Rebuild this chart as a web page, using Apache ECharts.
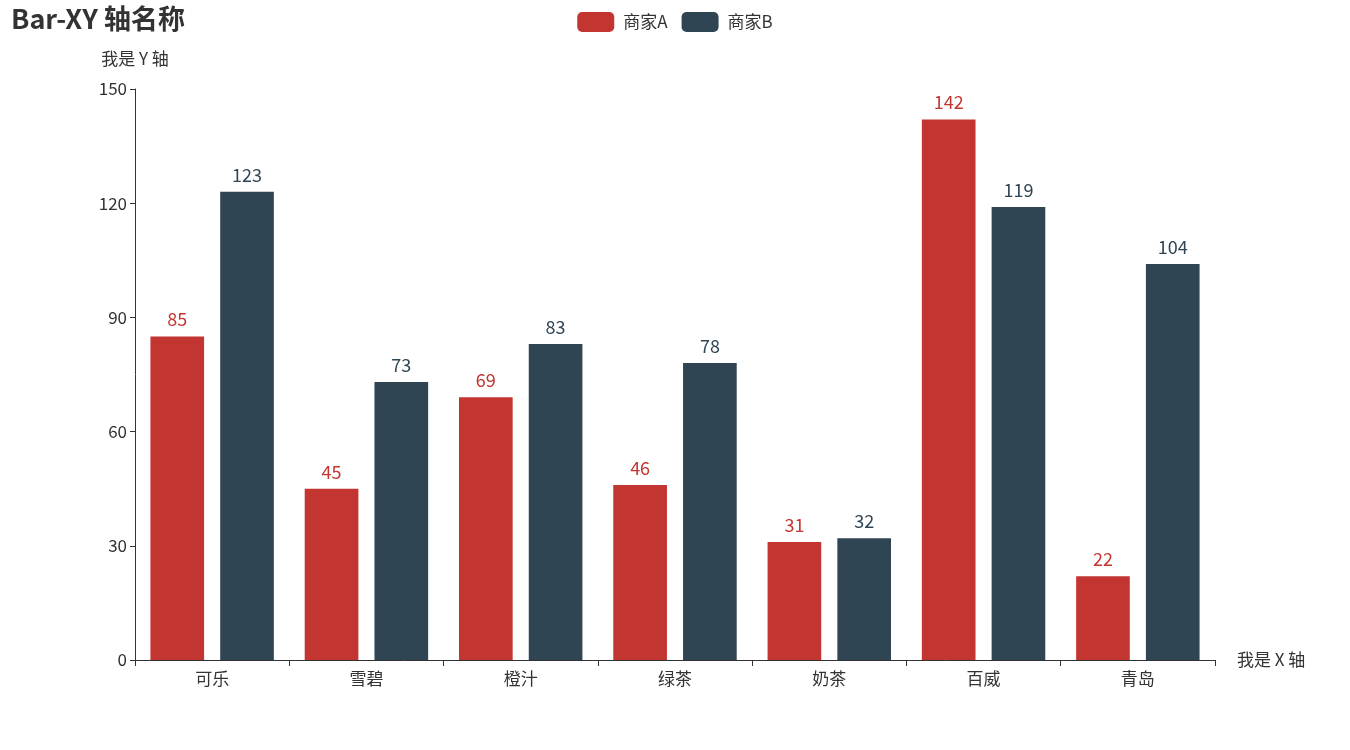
<!DOCTYPE html>
<html><head><meta charset="utf-8">
<script src="https://cdn.jsdelivr.net/npm/echarts@6/dist/echarts.min.js"></script>
<style>html,body{margin:0;padding:0;background:#fff}#c{width:1350px;height:750px}</style>
</head><body><div id="c"></div>
<script>
const categories = ["可乐","雪碧","橙汁","绿茶","奶茶","百威","青岛"];
const seriesA = [85,45,69,46,31,142,22];
const seriesB = [123,73,83,78,32,119,104];
const chart = echarts.init(document.getElementById('c'));
const font = "'Microsoft YaHei','Noto Sans CJK SC',sans-serif";
chart.setOption({
  animation:false,
  textStyle:{fontFamily:font},
  color:['#c23531','#2f4554'],
  title:{text:'Bar-XY 轴名称',left:6,top:0,textStyle:{fontSize:27,fontWeight:'bold',color:'#333',fontFamily:font}},
  legend:{top:7,left:'center',itemWidth:37,itemHeight:20,itemGap:14,textStyle:{fontSize:17,color:'#333',padding:[0,0,0,4]}},
  grid:{left:135,right:135,top:89,bottom:90},
  xAxis:{type:'category',data:categories,name:'我是 X 轴',nameGap:22,
    nameTextStyle:{fontSize:17,color:'#333'},
    axisLine:{lineStyle:{color:'#333'}},axisTick:{show:true,alignWithLabel:false,length:6,lineStyle:{color:'#333'}},
    axisLabel:{fontSize:17,color:'#333',margin:10}},
  yAxis:{type:'value',min:0,max:150,interval:30,name:'我是 Y 轴',nameGap:22,
    nameTextStyle:{fontSize:17,color:'#333',align:'center'},
    axisLine:{show:true,lineStyle:{color:'#333'}},axisTick:{show:true,lineStyle:{color:'#333'}},
    splitLine:{show:false},axisLabel:{fontSize:17,color:'#333'}},
  series:[
    {name:'商家A',type:'bar',data:seriesA,barGap:'30%',barCategoryGap:'20%',label:{show:true,position:'top',distance:8,fontSize:18,color:'#c23531'}},
    {name:'商家B',type:'bar',data:seriesB,barGap:'30%',barCategoryGap:'20%',label:{show:true,position:'top',distance:8,fontSize:18,color:'#2f4554'}}
  ]
});
</script></body></html>
